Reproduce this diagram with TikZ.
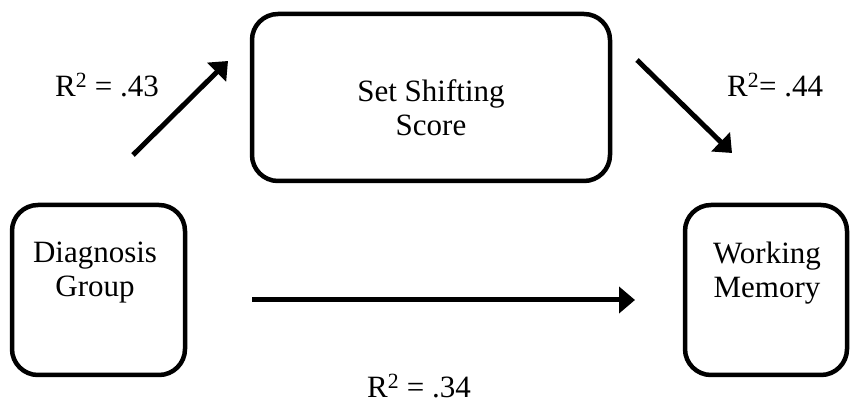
\documentclass[tikz,border=0pt]{standalone}
\usepackage{fontspec}
\setmainfont{Liberation Serif}
\usetikzlibrary{arrows.meta}
\begin{document}
\begin{tikzpicture}[x=1pt,y=1pt,
  box/.style={draw=black,line width=4.5pt,rounded corners=26pt,inner sep=0pt},
  txt/.style={align=center,font=\fontsize{31}{34}\selectfont,inner sep=0pt},
  lbl/.style={font=\fontsize{31}{34}\selectfont,inner sep=0pt,anchor=base west},
  conn/.style={line width=5pt,-{Triangle[length=16pt,width=26pt]}}]
\useasboundingbox (0,0) rectangle (850,409);
% boxes
\node[box,minimum width=358pt,minimum height=167pt] (shift) at (431,311.5) {};
\node[box,minimum width=173pt,minimum height=170pt] (diag) at (98.5,119) {};
\node[box,minimum width=162pt,minimum height=170pt] (wm) at (766,119) {};
% texts
\node[txt] (shifttxt) at (431,301) {Set Shifting\\Score};
\node[txt] (diagtxt) at (95,136) {Diagnosis\\Group};
\node[txt] (wmtxt) at (767,136) {Working\\Memory};
% connector ends
\coordinate (a1s) at (133,254);
\coordinate (a1e) at (228,348);
\coordinate (a2s) at (637,349);
\coordinate (a2e) at (732,256);
\coordinate (a3s) at (252,109);
\coordinate (a3e) at (635,109);
\draw[conn] (a1s) -- (a1e);
\draw[conn] (a2s) -- (a2e);
\draw[conn] (a3s) -- (a3e);
% labels
\node[lbl] (l1) at (55,312) {R\textsuperscript{2} = .43};
\node[lbl] (l2) at (727,312) {R\textsuperscript{2}= .44};
\node[lbl] (l3) at (367,11) {R\textsuperscript{2} = .34};
\end{tikzpicture}
\end{document}
